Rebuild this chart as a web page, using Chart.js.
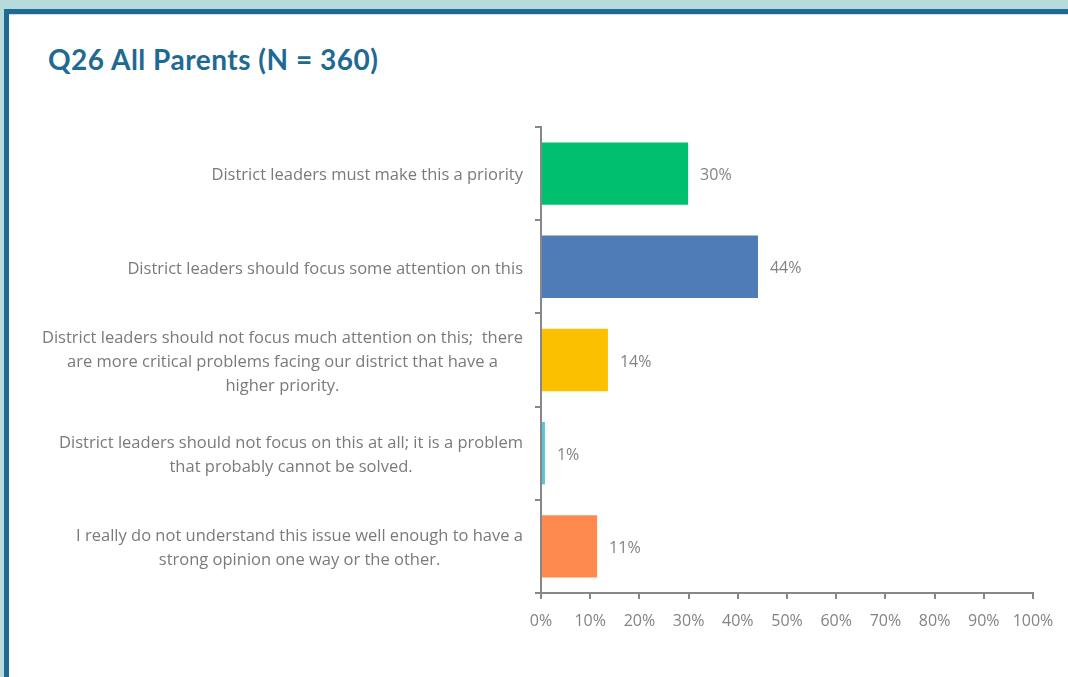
<!DOCTYPE html>
<html lang="en">
<head>
  <meta charset="UTF-8">
  <title>Q26 All Parents</title>
  <script src="https://cdn.jsdelivr.net/npm/chart.js"></script>
  <style>
    * { margin: 0; padding: 0; box-sizing: border-box; }
    body {
      width: 1068px;
      height: 677px;
      overflow: hidden;
      background: #b7dbdc;
      position: relative;
      font-family: Lato, "Open Sans", sans-serif;
    }
    .frame {
      position: absolute;
      left: 4px;
      top: 9px;
      right: 0;
      bottom: 0;
      background: #1f6a93;
    }
    .sheet {
      position: absolute;
      left: 9px;
      top: 14px;
      right: 0;
      bottom: 0;
      background: #fff;
      border-top: 1px solid #cfdcee;
    }
    h1 {
      position: absolute;
      left: 48px;
      top: 42px;
      font-size: 28px;
      font-weight: bold;
      color: #1f6a93;
      letter-spacing: 0.5px;
    }
    #wrap {
      position: absolute;
      left: 0;
      top: 0;
      width: 1068px;
      height: 677px;
    }
  </style>
</head>
<body>
  <div class="frame"></div>
  <div class="sheet"></div>
  <h1>Q26 All Parents (N = 360)</h1>
  <div id="wrap"><canvas id="chart" width="1068" height="677"></canvas></div>

  <script>
    const categories = [
      ['District leaders must make this a priority'],
      ['District leaders should focus some attention on this'],
      ['District leaders should not focus much attention on this;  there',
       'are more critical problems facing our district that have a',
       'higher priority.'],
      ['District leaders should not focus on this at all; it is a problem',
       'that probably cannot be solved.'],
      ['I really do not understand this issue well enough to have a',
       'strong opinion one way or the other.']
    ];
    const values = [29.9, 44.1, 13.6, 0.8, 11.4];
    const valueLabels = ['30%', '44%', '14%', '1%', '11%'];
    const barColors = ['#00bf6f', '#4f7cb6', '#fbc000', '#5bc5d8', '#ff8a4d'];
    const xTicks = [0, 10, 20, 30, 40, 50, 60, 70, 80, 90, 100];

    const axisGray = '#878787';
    const textGray = '#838383';
    const labelGray = '#7a7a7a';
    const fontFamily = '"Open Sans", Lato, sans-serif';
    const labelFont = '16.5px ' + fontFamily;

    // category labels: block right-aligned to the axis, lines centred inside it
    const categoryLabels = {
      id: 'categoryLabels',
      afterDraw(chart) {
        const ctx = chart.ctx;
        const y = chart.scales.y;
        const right = y.right - 18;
        const lineH = 24;
        ctx.save();
        ctx.font = labelFont;
        ctx.fillStyle = labelGray;
        ctx.textAlign = 'center';
        ctx.textBaseline = 'middle';
        categories.forEach((lines, i) => {
          const w = Math.max(...lines.map(l => ctx.measureText(l).width));
          const cx = right - w / 2;
          const cy = y.getPixelForTick(i) + 2;
          const top = cy - (lines.length - 1) * lineH / 2;
          lines.forEach((l, j) => ctx.fillText(l, cx, top + j * lineH));
        });
        ctx.restore();
      }
    };

    const valueTags = {
      id: 'valueTags',
      afterDatasetsDraw(chart) {
        const ctx = chart.ctx;
        const meta = chart.getDatasetMeta(0);
        ctx.save();
        ctx.font = '16px ' + fontFamily;
        ctx.fillStyle = textGray;
        ctx.textAlign = 'left';
        ctx.textBaseline = 'middle';
        meta.data.forEach((bar, i) => {
          ctx.fillText(valueLabels[i], bar.x + 12, bar.y + 2);
        });
        ctx.restore();
      }
    };

    new Chart(document.getElementById('chart'), {
      type: 'bar',
      data: {
        labels: categories.map(c => c.join(' ')),
        datasets: [{
          data: values,
          backgroundColor: barColors,
          borderWidth: 0,
          categoryPercentage: 0.67,
          barPercentage: 1
        }]
      },
      options: {
        indexAxis: 'y',
        responsive: false,
        animation: false,
        layout: { padding: { top: 127, right: 35, left: 0, bottom: 0 } },
        plugins: {
          legend: { display: false },
          tooltip: { enabled: false }
        },
        scales: {
          x: {
            min: 0,
            max: 100,
            afterBuildTicks(scale) {
              scale.ticks = xTicks.map(v => ({ value: v }));
            },
            afterFit(scale) {
              scale.height = 84;
              scale.paddingLeft = 0;
              scale.paddingRight = 0;
            },
            border: { color: axisGray, width: 2 },
            grid: { drawOnChartArea: false, color: axisGray, lineWidth: 2, tickLength: 6 },
            ticks: {
              color: textGray,
              font: { family: fontFamily, size: 16 },
              padding: 13,
              maxRotation: 0,
              callback: v => v + '%'
            }
          },
          y: {
            afterFit(scale) {
              scale.width = 541;
              scale.paddingTop = 0;
              scale.paddingBottom = 0;
            },
            border: { color: axisGray, width: 2 },
            grid: { drawOnChartArea: false, offset: true, color: axisGray, lineWidth: 2, tickLength: 6 },
            ticks: { display: false }
          }
        }
      },
      plugins: [categoryLabels, valueTags]
    });
  </script>
</body>
</html>
